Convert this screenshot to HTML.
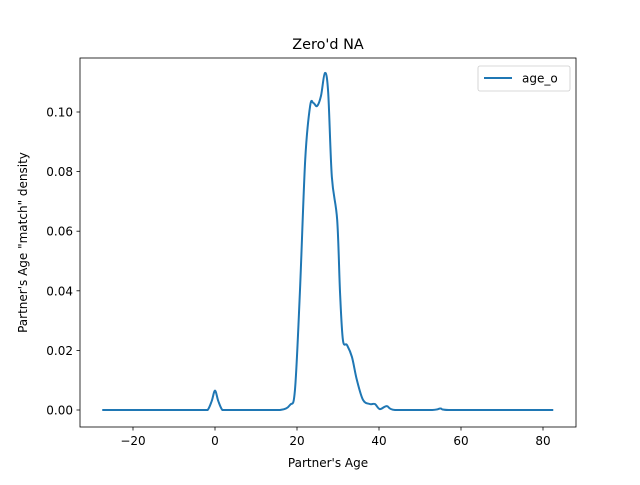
<!DOCTYPE html>
<html><head><meta charset="utf-8"><style>
body{margin:0;background:#fff;}
svg text{font-family:"DejaVu Sans","Liberation Sans",sans-serif;fill:#000;}
</style></head><body>
<svg width="640" height="480" xmlns="http://www.w3.org/2000/svg">
<rect width="640" height="480" fill="#fff"/>
<text x="328" y="49" text-anchor="middle" font-size="14.4">Zero'd NA</text>
<g id="ticks"></g>
<path id="curve" fill="none" stroke="#1f77b4" stroke-width="2" stroke-linejoin="round"/>
<rect x="80" y="58" width="496" height="369" fill="none" stroke="#000" stroke-width="0.8"/>
<text x="328" y="467" text-anchor="middle" font-size="12">Partner's Age</text>
<text transform="translate(27,242.5) rotate(-90)" text-anchor="middle" font-size="12">Partner's Age "match" density</text>
<g>
<rect x="478" y="66" width="92" height="25" rx="2" fill="#fff" stroke="#ccc" stroke-width="0.8"/>
<line x1="484" y1="78" x2="512" y2="78" stroke="#1f77b4" stroke-width="2"/>
<text x="522" y="82.5" font-size="12">age_o</text>
</g>
</svg>
<script>
const xs=[-27.5,-10,-3,-1.8,-0.8,0,0.8,1.8,3,10,15.85,18.3,19.5,20.7,22.0,23.2,24.0,24.9,25.85,26.8,27.6,28.5,29.8,30.5,31.2,32.2,33.4,34.6,36.1,37.8,39.0,40.2,41.9,43.9,53,55,57,70,82.5];
const ys=[0,0,0,0,0.003,0.0065,0.003,0,0,0,0,0.0017,0.0067,0.0393,0.0839,0.1020,0.1030,0.1020,0.1054,0.1131,0.1067,0.0782,0.0638,0.0393,0.0235,0.0218,0.0178,0.0101,0.0034,0.0020,0.0020,0.0003,0.0013,0,0,0.0005,0,0,0];
const xTicks=[-20,0,20,40,60,80];
const yTicks=[0,0.02,0.04,0.06,0.08,0.10];
const yTickLabels=["0.00","0.02","0.04","0.06","0.08","0.10"];
const X=v=>215+v*4.1, Y=v=>410-v*2980;
const NS="http://www.w3.org/2000/svg";
const g=document.getElementById('ticks');
function mk(t,a){const e=document.createElementNS(NS,t);for(const k in a)e.setAttribute(k,a[k]);g.appendChild(e);return e;}
xTicks.forEach(v=>{
 const l=mk('line',{x1:X(v),x2:X(v),y1:427,y2:430.5,stroke:'#000','stroke-width':0.8});
 
 
 const t=mk('text',{x:X(v),y:445,'text-anchor':'middle','font-size':12});
 t.textContent=(v<0?'\u2212'+(-v):v);
 
 
});
yTicks.forEach((v,i)=>{
 const l=mk('line',{x1:76.5,x2:80,y1:Y(v),y2:Y(v),stroke:'#000','stroke-width':0.8});
 
 
 const t=mk('text',{x:73,y:Y(v)+4.5,'text-anchor':'end','font-size':12});
 t.textContent=yTickLabels[i];
 
 
});
const P=xs.map((x,i)=>[X(x),Y(ys[i])]);
const base=Y(0);
let d='M'+P[0][0]+','+P[0][1];
for(let i=0;i<P.length-1;i++){
 const p0=P[Math.max(0,i-1)],p1=P[i],p2=P[i+1],p3=P[Math.min(P.length-1,i+2)];
 const c1=[p1[0]+(p2[0]-p0[0])/6,Math.min(base,p1[1]+(p2[1]-p0[1])/6)];
 const c2=[p2[0]-(p3[0]-p1[0])/6,Math.min(base,p2[1]-(p3[1]-p1[1])/6)];
 d+=` C${c1[0]},${c1[1]} ${c2[0]},${c2[1]} ${p2[0]},${p2[1]}`;
}
document.getElementById('curve').setAttribute('d',d);
</script>
</body></html>
